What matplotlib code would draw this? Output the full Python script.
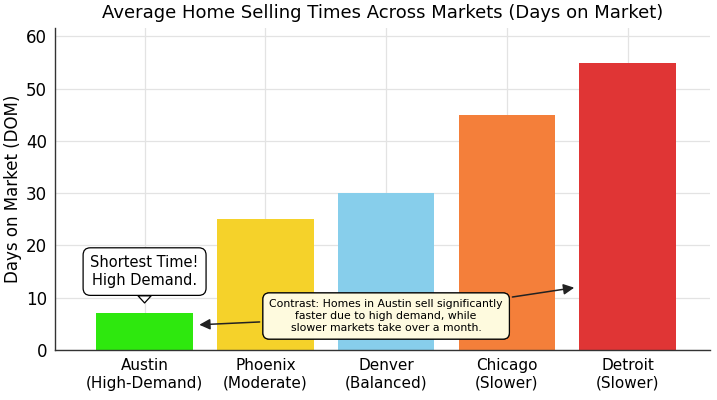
import matplotlib
matplotlib.use("Agg")
import matplotlib.pyplot as plt
import numpy as np

categories = ["Austin\n(High-Demand)", "Phoenix\n(Moderate)", "Denver\n(Balanced)",
              "Chicago\n(Slower)", "Detroit\n(Slower)"]
days = [7, 25, 30, 45, 55]
colors = ["#2ee80e", "#f5d22a", "#87ceeb", "#f47f3a", "#e03535"]

fig = plt.figure(figsize=(7.17, 4.0), dpi=100)
ax = fig.add_axes([0.077, 0.125, 0.913, 0.805])

x = np.arange(len(categories))
ax.bar(x, days, width=0.8, color=colors, zorder=2)

ax.set_xlim(-0.74, 4.68)
ax.set_ylim(0, max(days) * 1.12)
ax.set_yticks([0, 10, 20, 30, 40, 50, 60])
ax.set_xticks(x)
ax.set_xticklabels(categories, fontsize=11)
ax.tick_params(axis='y', labelsize=12, length=0, pad=6)
ax.tick_params(axis='x', length=0, pad=6)
ax.grid(True, color="#e3e3e3", linewidth=0.9, zorder=0)
ax.set_axisbelow(True)
for s in ["top", "right"]:
    ax.spines[s].set_visible(False)
for s in ["left", "bottom"]:
    ax.spines[s].set_color("#333333")
    ax.spines[s].set_linewidth(1.0)

ax.set_ylabel("Days on Market (DOM)", fontsize=12, labelpad=3)
ax.set_title("Average Home Selling Times Across Markets (Days on Market)", fontsize=13, pad=7)

# Callout over Austin
ax.annotate("Shortest Time!\nHigh Demand.", xy=(0, 9.0), xytext=(0, 15.0),
            ha="center", va="center", fontsize=10.5, linespacing=1.25,
            bbox=dict(boxstyle="round,pad=0.5", fc="white", ec="black", lw=0.9),
            arrowprops=dict(arrowstyle="wedge,tail_width=0.9,shrink_factor=0.5",
                            fc="white", ec="black", lw=0.9, shrinkA=0, shrinkB=0),
            zorder=5)

# Contrast annotation
note = ("Contrast: Homes in Austin sell significantly\n"
        "faster due to high demand, while\n"
        "slower markets take over a month.")
bbox2 = dict(boxstyle="round,pad=0.6", fc="#fffbe0", ec="black", lw=0.9, alpha=0.92)
ax.annotate(note, xy=(0.43, 4.8), xytext=(2.0, 6.5), ha="center", va="center",
            fontsize=7.8, bbox=bbox2,
            arrowprops=dict(arrowstyle="-|>", color="#222222", lw=1.1,
                            mutation_scale=16), zorder=6)
ax.annotate(note, xy=(3.58, 12.0), xytext=(2.0, 6.5), ha="center", va="center",
            fontsize=7.8, bbox=bbox2,
            arrowprops=dict(arrowstyle="-|>", color="#222222", lw=1.1,
                            mutation_scale=16), zorder=6)

fig.savefig("out.png", dpi=100)
